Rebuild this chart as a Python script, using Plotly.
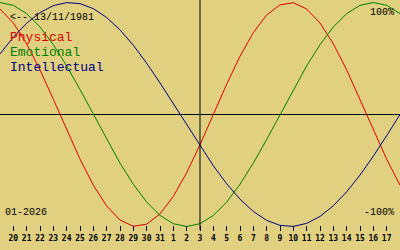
import plotly.graph_objects as go
import pandas as pd

# ---- data ----
birth_label = "<-- 13/11/1981"
month_label = "01-2026"
start_date = "2026-01-19"
end_date = "2026-02-18"
today = "2026-02-03"

dates = [d.strftime("%Y-%m-%d") for d in pd.date_range(start_date, end_date, freq="D")]

physical = [0.942, 0.817, 0.631, 0.398, 0.136, -0.136, -0.398, -0.631, -0.817, -0.942,
            -0.998, -0.979, -0.888, -0.731, -0.520, -0.270, 0.0, 0.270, 0.520, 0.731,
            0.888, 0.979, 0.998, 0.942, 0.817, 0.631, 0.398, 0.136, -0.136, -0.398, -0.631]
emotional = [1.0, 0.975, 0.901, 0.782, 0.623, 0.434, 0.223, 0.0, -0.223, -0.434,
             -0.623, -0.782, -0.901, -0.975, -1.0, -0.975, -0.901, -0.782, -0.623, -0.434,
             -0.223, 0.0, 0.223, 0.434, 0.623, 0.782, 0.901, 0.975, 1.0, 0.975, 0.901]
intellectual = [0.541, 0.690, 0.815, 0.910, 0.972, 0.999, 0.990, 0.945, 0.866, 0.756,
                0.618, 0.458, 0.282, 0.095, -0.095, -0.282, -0.458, -0.618, -0.756, -0.866,
                -0.945, -0.990, -0.999, -0.972, -0.910, -0.815, -0.690, -0.541, -0.372, -0.189, 0.0]

tick_dates = [d.strftime("%Y-%m-%d") for d in pd.date_range("2026-01-20", "2026-02-17", freq="D")]
tick_labels = ["20", "21", "22", "23", "24", "25", "26", "27", "28", "29", "30", "31",
               "1", "2", "3", "4", "5", "6", "7", "8", "9", "10", "11", "12", "13", "14",
               "15", "16", "17"]

series_names = ["Physical", "Emotional", "Intellectual"]
series_colors = ["#e00000", "#008000", "#000080"]

BG = "#e0d080"
MONO = "Liberation Mono"
TICKFONT = "DejaVu Sans Mono"

fig = go.Figure()
for name, vals, col in zip(series_names, [physical, emotional, intellectual], series_colors):
    fig.add_trace(go.Scatter(x=dates, y=vals, mode="lines", name=name,
                             line=dict(color=col, width=1), hoverinfo="skip"))

fig.update_layout(
    width=400, height=250,
    margin=dict(l=0, r=0, t=0, b=0),
    paper_bgcolor=BG, plot_bgcolor=BG,
    showlegend=False,
    xaxis=dict(
        type="date", range=[start_date, end_date],
        anchor="free", position=0.1,
        tickmode="array", tickvals=tick_dates, ticktext=tick_labels,
        ticks="outside", ticklen=5, tickwidth=1, tickcolor="black",
        tickfont=dict(family=TICKFONT, size=8, color="black", weight="bold"),
        showgrid=False, showline=False, zeroline=False,
    ),
    yaxis=dict(
        range=[-1.20982, 1.02232],
        showgrid=False, showticklabels=False, ticks="",
        zeroline=True, zerolinecolor="black", zerolinewidth=1, showline=False,
    ),
)

fig.add_shape(type="line", xref="x", yref="paper", x0=today, x1=today, y0=0.08, y1=1,
              line=dict(color="black", width=1))

def ann(text, px, py, color, size, xanchor="left"):
    fig.add_annotation(text=text, xref="paper", yref="paper", x=px / 400, y=1 - py / 250,
                       xanchor=xanchor, yanchor="middle", showarrow=False,
                       font=dict(family=MONO, size=size, color=color))

ann(birth_label, 8, 17, "black", 10)
for i, (name, col) in enumerate(zip(series_names, series_colors)):
    ann(name, 8, 37.5 + 15 * i, col, 13)
ann("100%", 396, 12.5, "black", 10, "right")
ann("-100%", 396, 212, "black", 10, "right")
ann(month_label, 3, 212, "black", 10)

fig.write_html("out.html")
